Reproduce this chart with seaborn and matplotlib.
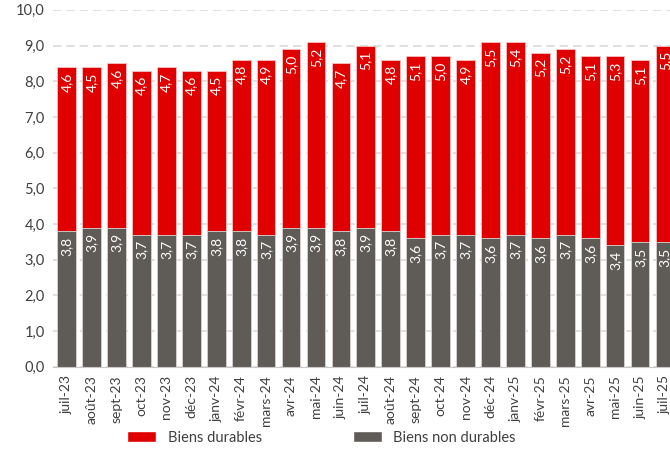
import numpy as np
import pandas as pd
import matplotlib
matplotlib.use("Agg")
import matplotlib.pyplot as plt
from matplotlib.patches import Patch
import seaborn as sns

months = ["juil-23", "août-23", "sept-23", "oct-23", "nov-23", "déc-23", "janv-24",
          "févr-24", "mars-24", "avr-24", "mai-24", "juin-24", "juil-24", "août-24",
          "sept-24", "oct-24", "nov-24", "déc-24", "janv-25", "févr-25", "mars-25",
          "avr-25", "mai-25", "juin-25", "juil-25"]
non_durables = [3.8, 3.9, 3.9, 3.7, 3.7, 3.7, 3.8, 3.8, 3.7, 3.9, 3.9, 3.8, 3.9,
                3.8, 3.6, 3.7, 3.7, 3.6, 3.7, 3.6, 3.7, 3.6, 3.4, 3.5, 3.5]
durables = [4.6, 4.5, 4.6, 4.6, 4.7, 4.6, 4.5, 4.8, 4.9, 5.0, 5.2, 4.7, 5.1,
            4.8, 5.1, 5.0, 4.9, 5.5, 5.4, 5.2, 5.2, 5.1, 5.3, 5.1, 5.5]

red = "#e00000"
grey = "#5f5c58"
txt = "#404040"

df = pd.DataFrame({"mois": months, "non_durables": non_durables, "durables": durables})
df["total"] = df["non_durables"] + df["durables"]

sns.set_style("white")
plt.rcParams["font.family"] = ["Lato", "DejaVu Sans"]

fig = plt.figure(figsize=(6.7, 4.49), dpi=100)
ax = fig.add_axes([0.079, 0.183, 0.921, 0.795])

# stacked: total in red, non durables over it in grey
sns.barplot(data=df, x="mois", y="total", color=red, saturation=1, width=0.75,
            edgecolor="#f4c0c0", linewidth=0.6, ax=ax, zorder=2)
sns.barplot(data=df, x="mois", y="non_durables", color=grey, saturation=1, width=0.75,
            edgecolor="#d8d8d8", linewidth=0.6, ax=ax, zorder=3)

for i, row in df.iterrows():
    ax.text(i, row["non_durables"] - 0.15, f"{row['non_durables']:.1f}".replace(".", ","),
            rotation=90, ha="center", va="top", color="white", fontsize=10, zorder=4)
    ax.text(i, row["total"] - 0.15, f"{row['durables']:.1f}".replace(".", ","),
            rotation=90, ha="center", va="top", color="white", fontsize=10, zorder=4)

ax.set_ylim(0, 10)
ax.set_xlim(-0.55, 24.2)
ax.set_yticks(np.arange(0, 11, 1))
ax.set_yticklabels([f"{v:.1f}".replace(".", ",") for v in np.arange(0, 11, 1)],
                   color=txt, fontsize=10.5)
ax.set_xticks(range(len(months)))
ax.set_xticklabels(months, rotation=90, color=txt, fontsize=10)
ax.tick_params(axis="both", length=0, pad=6)
ax.set_xlabel("")
ax.set_ylabel("")

ax.yaxis.grid(True, color="#d9d9d9", linestyle=(0, (5, 3)), linewidth=1.2, zorder=0)
ax.set_axisbelow(True)
for s in ["top", "right", "left"]:
    ax.spines[s].set_visible(False)
ax.spines["bottom"].set_color("#c8c8c8")
ax.spines["bottom"].set_zorder(5)

handles = [Patch(facecolor=red, label="Biens durables"),
           Patch(facecolor=grey, label="Biens non durables")]
fig.legend(handles=handles, loc="center", bbox_to_anchor=(0.48, 0.025), ncol=2,
           frameon=False, fontsize=10.5, labelcolor=txt, handlelength=2.0,
           handleheight=0.8, columnspacing=6.2, handletextpad=0.8)

fig.savefig("out.png", dpi=100)
